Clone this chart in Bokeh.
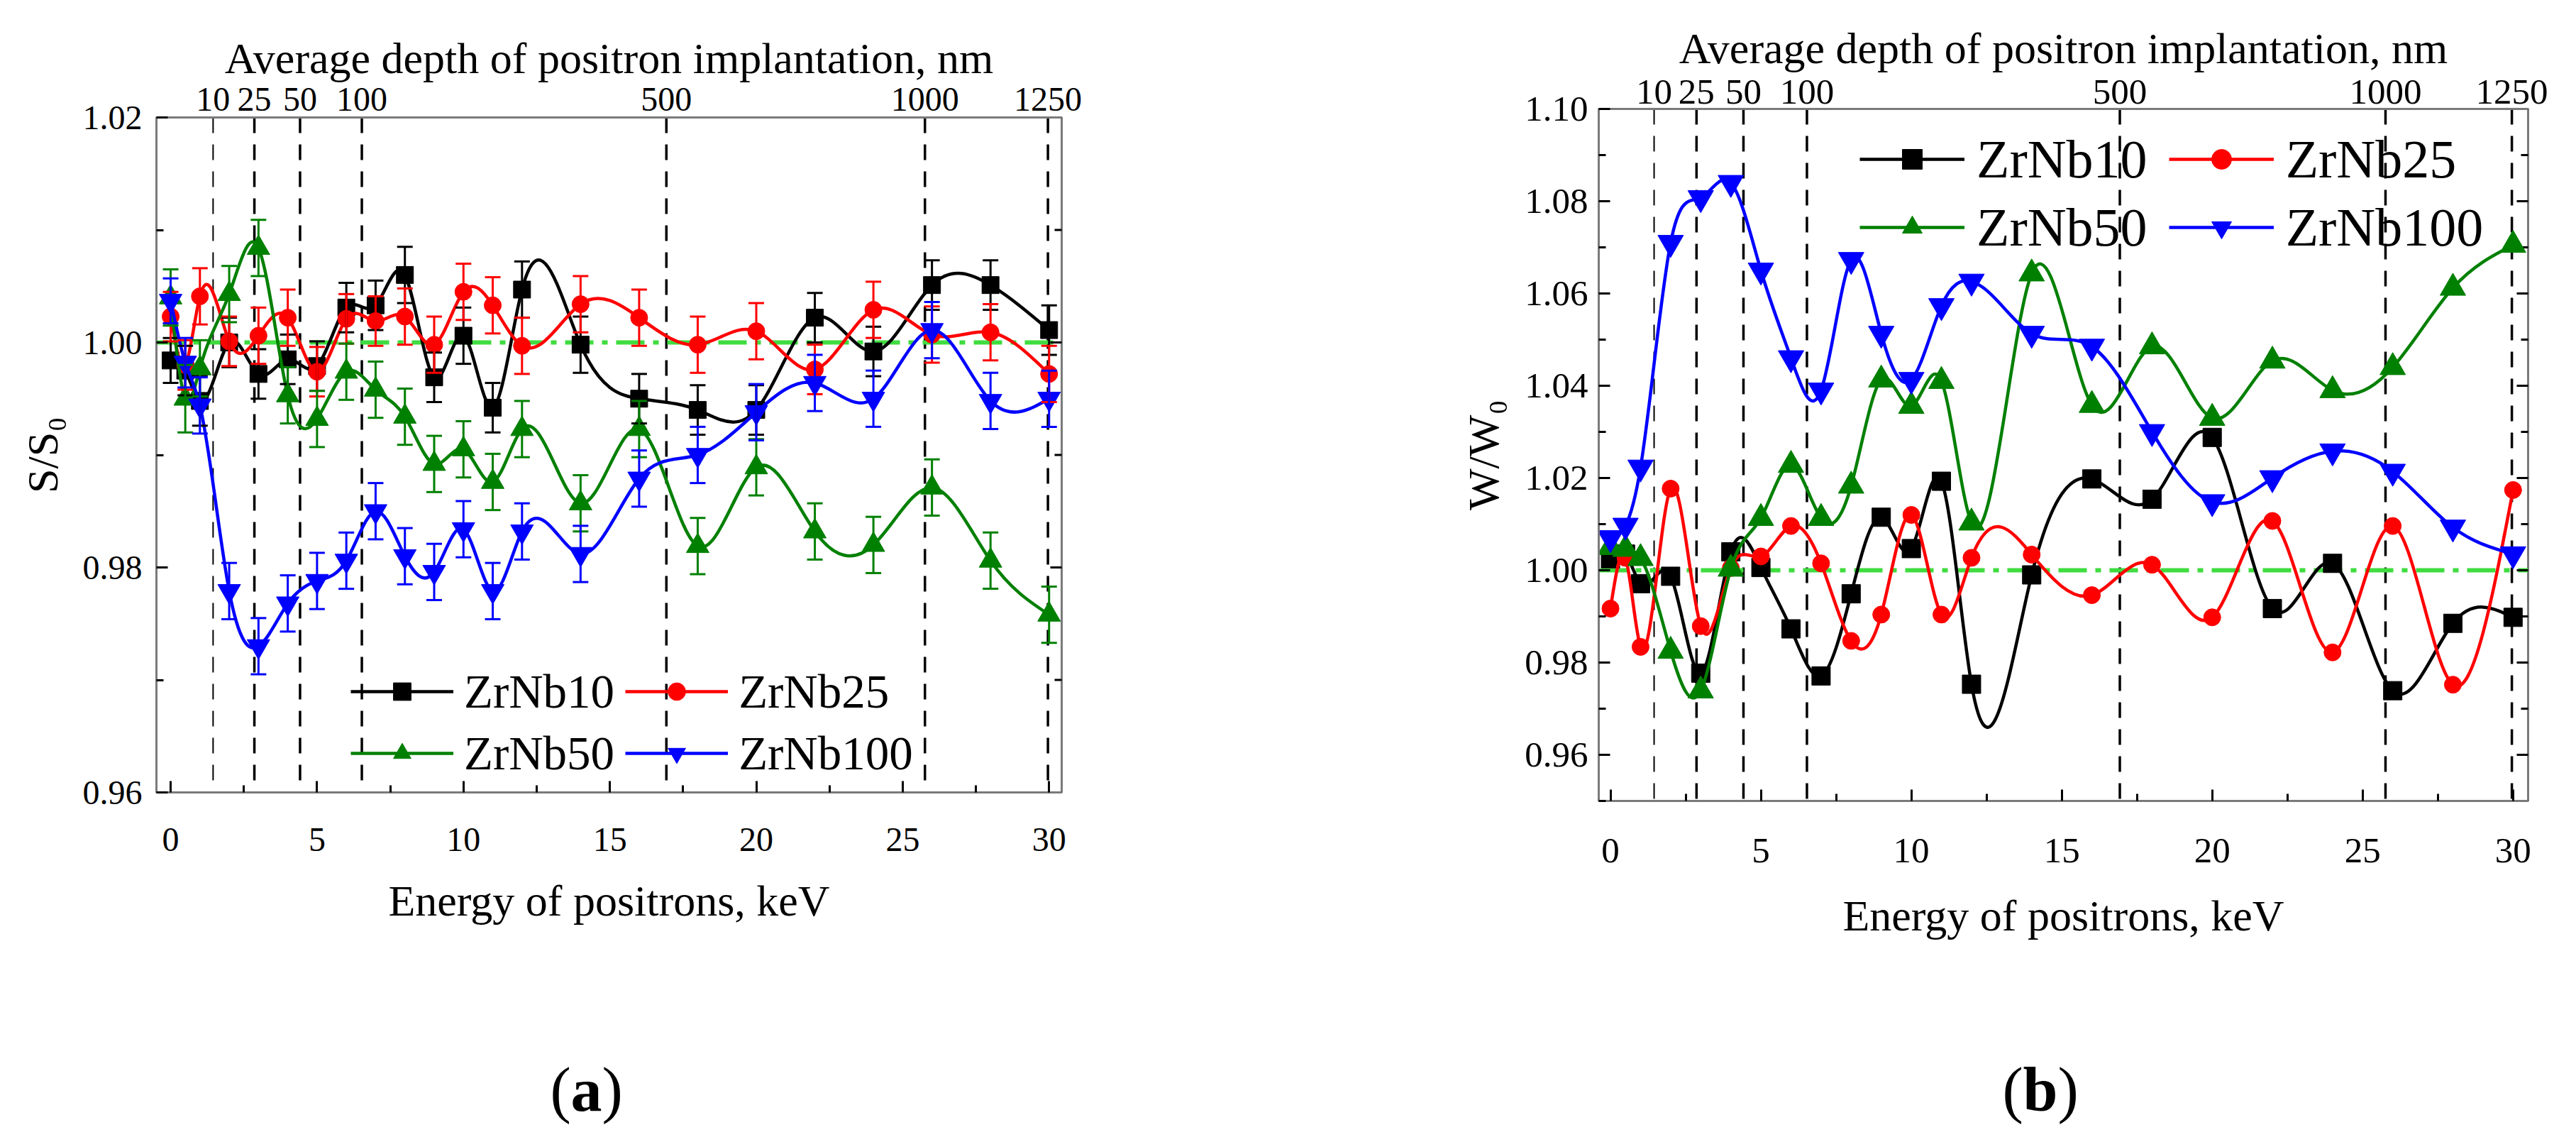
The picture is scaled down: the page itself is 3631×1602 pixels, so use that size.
import numpy as np
from bokeh.plotting import figure
from bokeh.models import (ColumnDataSource, Whisker, TeeHead, Span, Label, Legend,
                          LegendItem, LinearAxis, FixedTicker, Range1d, NumeralTickFormatter)
from bokeh.layouts import row, column
from bokeh.embed import file_html
from bokeh.resources import INLINE

# ---------------- data ----------------
energy = [0, 0.5, 1, 2, 3, 4, 5, 6, 7, 8, 9, 10, 11, 12, 14, 16, 18, 20, 22, 24, 26, 28, 30]

s_zrnb10 = [0.9984, 0.9975, 0.9948, 1.0000, 0.9972, 0.9985, 0.9979, 1.0031, 1.0033, 1.0060, 0.9969, 1.0006,
            0.9942, 1.0047, 0.9998, 0.9950, 0.9940, 0.9940, 1.0022, 0.9992, 1.0051, 1.0051, 1.0011]
s_zrnb25 = [1.0023, 0.9980, 1.0041, 1.0001, 1.0006, 1.0022, 0.9974, 1.0021, 1.0019, 1.0023, 0.9998, 1.0045,
            1.0033, 0.9997, 1.0034, 1.0022, 0.9998, 1.0010, 0.9976, 1.0029, 1.0007, 1.0009, 0.9972]
s_zrnb50 = [1.0040, 0.9950, 0.9977, 1.0043, 1.0084, 0.9953, 0.9932, 0.9974, 0.9958, 0.9934, 0.9892, 0.9905,
            0.9876, 0.9923, 0.9857, 0.9923, 0.9819, 0.9889, 0.9832, 0.9820, 0.9871, 0.9806, 0.9758]
s_zrnb100 = [1.0037, 0.9982, 0.9944, 0.9779, 0.9730, 0.9768, 0.9788, 0.9806, 0.9850, 0.9810, 0.9796, 0.9834,
             0.9779, 0.9832, 0.9812, 0.9879, 0.9900, 0.9938, 0.9964, 0.9950, 1.0011, 0.9948, 0.9950]

s_err10 = [0.0020, 0.0022, 0.0022, 0.0022, 0.0022, 0.0022, 0.0022, 0.0022, 0.0022, 0.0025, 0.0022, 0.0025,
           0.0022, 0.0025, 0.0025, 0.0022, 0.0022, 0.0022, 0.0022, 0.0022, 0.0022, 0.0022, 0.0022]
s_err25 = [0.0022, 0.0022, 0.0025, 0.0022, 0.0025, 0.0025, 0.0022, 0.0022, 0.0022, 0.0025, 0.0025, 0.0025,
           0.0025, 0.0025, 0.0025, 0.0025, 0.0025, 0.0025, 0.0022, 0.0025, 0.0025, 0.0025, 0.0025]
s_err50 = [0.0025, 0.0030, 0.0025, 0.0025, 0.0025, 0.0025, 0.0025, 0.0025, 0.0025, 0.0025, 0.0025, 0.0025,
           0.0025, 0.0025, 0.0025, 0.0025, 0.0025, 0.0025, 0.0025, 0.0025, 0.0025, 0.0025, 0.0025]
s_err100 = [0.0020, 0.0022, 0.0025, 0.0025, 0.0025, 0.0025, 0.0025, 0.0025, 0.0025, 0.0025, 0.0025, 0.0025,
            0.0025, 0.0025, 0.0025, 0.0025, 0.0025, 0.0025, 0.0025, 0.0025, 0.0025, 0.0025, 0.0025]

w_zrnb10 = [1.0025, 1.0035, 0.9971, 0.9987, 0.9777, 1.0040, 1.0006, 0.9873, 0.9771, 0.9949, 1.0115, 1.0047,
            1.0193, 0.9753, 0.9990, 1.0198, 1.0154, 1.0288, 0.9917, 1.0015, 0.9739, 0.9885, 0.9898]
w_zrnb25 = [0.9917, 1.0027, 0.9834, 1.0177, 0.9879, 1.0005, 1.0030, 1.0096, 1.0015, 0.9847, 0.9904, 1.0120,
            0.9904, 1.0027, 1.0034, 0.9946, 1.0012, 0.9898, 1.0107, 0.9822, 1.0096, 0.9752, 1.0174]
w_zrnb50 = [1.0050, 1.0046, 1.0026, 0.9825, 0.9739, 1.0003, 1.0113, 1.0228, 1.0113, 1.0183, 1.0413, 1.0356,
            1.0410, 1.0103, 1.0643, 1.0358, 1.0485, 1.0330, 1.0454, 1.0390, 1.0440, 1.0612, 1.0705]
w_zrnb100 = [1.0070, 1.0097, 1.0223, 1.0710, 1.0807, 1.0840, 1.0650, 1.0460, 1.0390, 1.0673, 1.0513, 1.0413,
             1.0573, 1.0626, 1.0513, 1.0485, 1.0300, 1.0148, 1.0200, 1.0258, 1.0214, 1.0093, 1.0035]

series_names = ["ZrNb10", "ZrNb25", "ZrNb50", "ZrNb100"]
depth_energy = [1.45, 2.86, 4.42, 6.53, 16.93, 25.76, 29.96]
depth_labels = ["10", "25", "50", "100", "500", "1000", "1250"]
x_major = [0, 5, 10, 15, 20, 25, 30]
x_minor = [2.5, 7.5, 12.5, 17.5, 22.5, 27.5]
s_major = [0.96, 0.98, 1.00, 1.02]
s_minor = [0.97, 0.99, 1.01]
w_major = [0.96, 0.98, 1.00, 1.02, 1.04, 1.06, 1.08, 1.10]
w_minor = [0.95, 0.97, 0.99, 1.01, 1.03, 1.05, 1.07, 1.09]
reference_level = 1.0
panel_letters = ["a", "b"]

# ---------------- styling ----------------
FONT = "Liberation Serif"
COLORS = ["#000000", "#ff0000", "#008000", "#0000ff"]
MARKERS = ["square", "circle", "triangle", "inverted_triangle"]
AXC = "#7a7a7a"


def spline_bezier(x, y):
    """natural cubic spline through the points, as cubic Bezier segments"""
    x = np.asarray(x, float)
    y = np.asarray(y, float)
    n = len(x)
    h = np.diff(x)
    A = np.zeros((n, n))
    b = np.zeros(n)
    A[0, 0] = 1.0
    A[-1, -1] = 1.0
    for i in range(1, n - 1):
        A[i, i - 1] = h[i - 1]
        A[i, i] = 2 * (h[i - 1] + h[i])
        A[i, i + 1] = h[i]
        b[i] = 6 * ((y[i + 1] - y[i]) / h[i] - (y[i] - y[i - 1]) / h[i - 1])
    M = np.linalg.solve(A, b)
    sl = (y[1:] - y[:-1]) / h
    d0 = sl - h * (2 * M[:-1] + M[1:]) / 6
    d1 = sl + h * (M[:-1] + 2 * M[1:]) / 6
    return dict(x0=x[:-1], y0=y[:-1], x1=x[1:], y1=y[1:],
                cx0=x[:-1] + h / 3, cy0=y[:-1] + h * d0 / 3,
                cx1=x[1:] - h / 3, cy1=y[1:] - h * d1 / 3)


def style_axis(ax, fs, standoff, title_standoff):
    ax.axis_line_color = AXC
    ax.axis_line_width = 3
    ax.major_tick_line_color = "black"
    ax.minor_tick_line_color = "black"
    ax.major_tick_line_width = 3
    ax.minor_tick_line_width = 3
    ax.major_tick_in = 16
    ax.major_tick_out = 0
    ax.minor_tick_in = 10
    ax.minor_tick_out = 0
    ax.major_label_text_font = FONT
    ax.major_label_text_font_size = f"{fs}px"
    ax.major_label_text_color = "black"
    ax.major_label_standoff = standoff
    ax.axis_label_text_font = FONT
    ax.axis_label_text_font_size = "62px"
    ax.axis_label_text_font_style = "normal"
    ax.axis_label_text_color = "black"
    ax.axis_label_standoff = title_standoff


def make_panel(width, height, borders, xr, yr, ymajor, yminor, ylabel, ys, errs,
               fs, marker_sizes, leg):
    left, right, top, bottom = borders
    p = figure(width=width, height=height, x_range=Range1d(*xr), y_range=Range1d(*yr),
               output_backend="svg", toolbar_location=None,
               min_border_left=left, min_border_right=right,
               min_border_top=top, min_border_bottom=bottom)
    p.xgrid.visible = False
    p.ygrid.visible = False
    p.outline_line_color = AXC
    p.outline_line_width = 3
    p.background_fill_color = "white"
    p.border_fill_color = "white"

    xt = FixedTicker(ticks=x_major, minor_ticks=x_minor)
    yt = FixedTicker(ticks=ymajor, minor_ticks=yminor)
    p.xaxis[0].ticker = xt
    p.yaxis[0].ticker = yt
    p.yaxis[0].formatter = NumeralTickFormatter(format="0.00")
    p.xaxis[0].axis_label = "Energy of positrons, keV"
    p.yaxis[0].axis_label = ylabel
    style_axis(p.xaxis[0], fs, leg["xstand"], leg["xtitle"])
    style_axis(p.yaxis[0], fs, leg["ystand"], leg["ytitle"])

    # mirrored inward ticks on the right frame edge (dash markers, half clipped by the frame)
    p.scatter(x=[xr[1]] * len(ymajor), y=ymajor, marker="dash", size=32,
              line_color="black", line_width=3)
    p.scatter(x=[xr[1]] * len(yminor), y=yminor, marker="dash", size=20,
              line_color="black", line_width=3)

    ta = LinearAxis(ticker=FixedTicker(ticks=depth_energy),
                    major_label_overrides={e: l for e, l in zip(depth_energy, depth_labels)},
                    axis_label="Average depth of positron implantation, nm")
    style_axis(ta, fs, leg["tstand"], leg["ttitle"])
    ta.major_tick_in = 0
    ta.minor_tick_in = 0
    p.add_layout(ta, "above")

    for i, e in enumerate(depth_energy):
        p.add_layout(Span(location=e, dimension="height", line_color="black",
                          line_width=2 if i == 0 else 3.5, line_dash="22 16", level="underlay"))
    p.add_layout(Span(location=reference_level, dimension="width", line_color="#3fdc3f",
                      line_width=6, line_dash="40 12 8 12", level="underlay"))

    items = []
    for k in range(4):
        c = COLORS[k]
        bz = spline_bezier(energy, ys[k])
        p.bezier(x0="x0", y0="y0", x1="x1", y1="y1", cx0="cx0", cy0="cy0", cx1="cx1", cy1="cy1",
                 source=ColumnDataSource(bz), line_color=c, line_width=4.5)
        if errs is not None:
            yv = np.asarray(ys[k])
            ev = np.asarray(errs[k])
            src = ColumnDataSource(dict(x=energy, upper=yv + ev, lower=yv - ev))
            p.add_layout(Whisker(base="x", upper="upper", lower="lower", source=src,
                                 line_color=c, line_width=3, level="glyph",
                                 upper_head=TeeHead(size=22, line_color=c, line_width=3),
                                 lower_head=TeeHead(size=22, line_color=c, line_width=3)))
        sc = p.scatter(energy, ys[k], marker=MARKERS[k], size=marker_sizes[k],
                       fill_color=c, line_color=c)
        # one-point line: invisible in the plot, gives the legend its line
        ln = p.line(x=energy[:1], y=ys[k][:1], line_color=c, line_width=4.5)
        items.append(LegendItem(label=series_names[k], renderers=[ln, sc]))

    for r in range(2):
        lg = Legend(items=items[2 * r:2 * r + 2], orientation="horizontal",
                    location=(leg["x"], leg["y"][r]),
                    label_text_font=FONT, label_text_font_size=f"{leg['fs']}px",
                    label_text_color="black",
                    glyph_width=leg["gw"], glyph_height=leg["gh"], label_height=leg["lh"],
                    label_standoff=leg["stand"], spacing=leg["spacing"],
                    padding=0, margin=0, border_line_alpha=0, background_fill_alpha=0)
        p.add_layout(lg)
    return p


pa = make_panel(1815, 1400, (220, 319, 165, 284), (-0.485, 30.43), (0.96, 1.02),
                s_major, s_minor, "S/S\u2080",
                [s_zrnb10, s_zrnb25, s_zrnb50, s_zrnb100],
                [s_err10, s_err25, s_err50, s_err100],
                48, [24, 24, 32, 32],
                dict(x=274, y=[102, 15], fs=67, gw=145, gh=62, lh=80, stand=15, spacing=15,
                     xstand=50, xtitle=33, ystand=20, ytitle=20, tstand=10, ttitle=5))

pb = make_panel(1800, 1400, (438, 52, 153, 272), (-0.39, 30.5), (0.95, 1.10),
                w_major, w_minor, "W/W\u2080",
                [w_zrnb10, w_zrnb25, w_zrnb50, w_zrnb100],
                None,
                51, [26, 24, 36, 36],
                dict(x=368, y=[859, 763], fs=76, gw=148, gh=70, lh=90, stand=17, spacing=30,
                     xstand=53, xtitle=38, ystand=15, ytitle=21, tstand=8, ttitle=8))

# strip below the panels for the (a) / (b) captions
strip = figure(width=3615, height=186, x_range=Range1d(0, 3615), y_range=Range1d(0, 186),
               output_backend="svg", toolbar_location=None, x_axis_type=None, y_axis_type=None,
               min_border_left=0, min_border_right=0, min_border_top=0, min_border_bottom=0)
strip.outline_line_color = None
strip.background_fill_color = "white"
strip.border_fill_color = "white"
for letter, lx, lw in zip(panel_letters, [775, 2822], [44, 49]):
    strip.add_layout(Label(x=lx, y=51, text="(", text_font=FONT, text_font_size="88px",
                           text_color="black", text_baseline="alphabetic"))
    strip.add_layout(Label(x=lx + 29, y=51, text=letter, text_font=FONT, text_font_size="88px",
                           text_font_style="bold", text_color="black", text_baseline="alphabetic"))
    strip.add_layout(Label(x=lx + 29 + lw, y=51, text=")", text_font=FONT, text_font_size="88px",
                           text_color="black", text_baseline="alphabetic"))

layout = column(row(column(pa), column(pb)), strip)
open("out.html", "w").write(file_html(layout, INLINE))
